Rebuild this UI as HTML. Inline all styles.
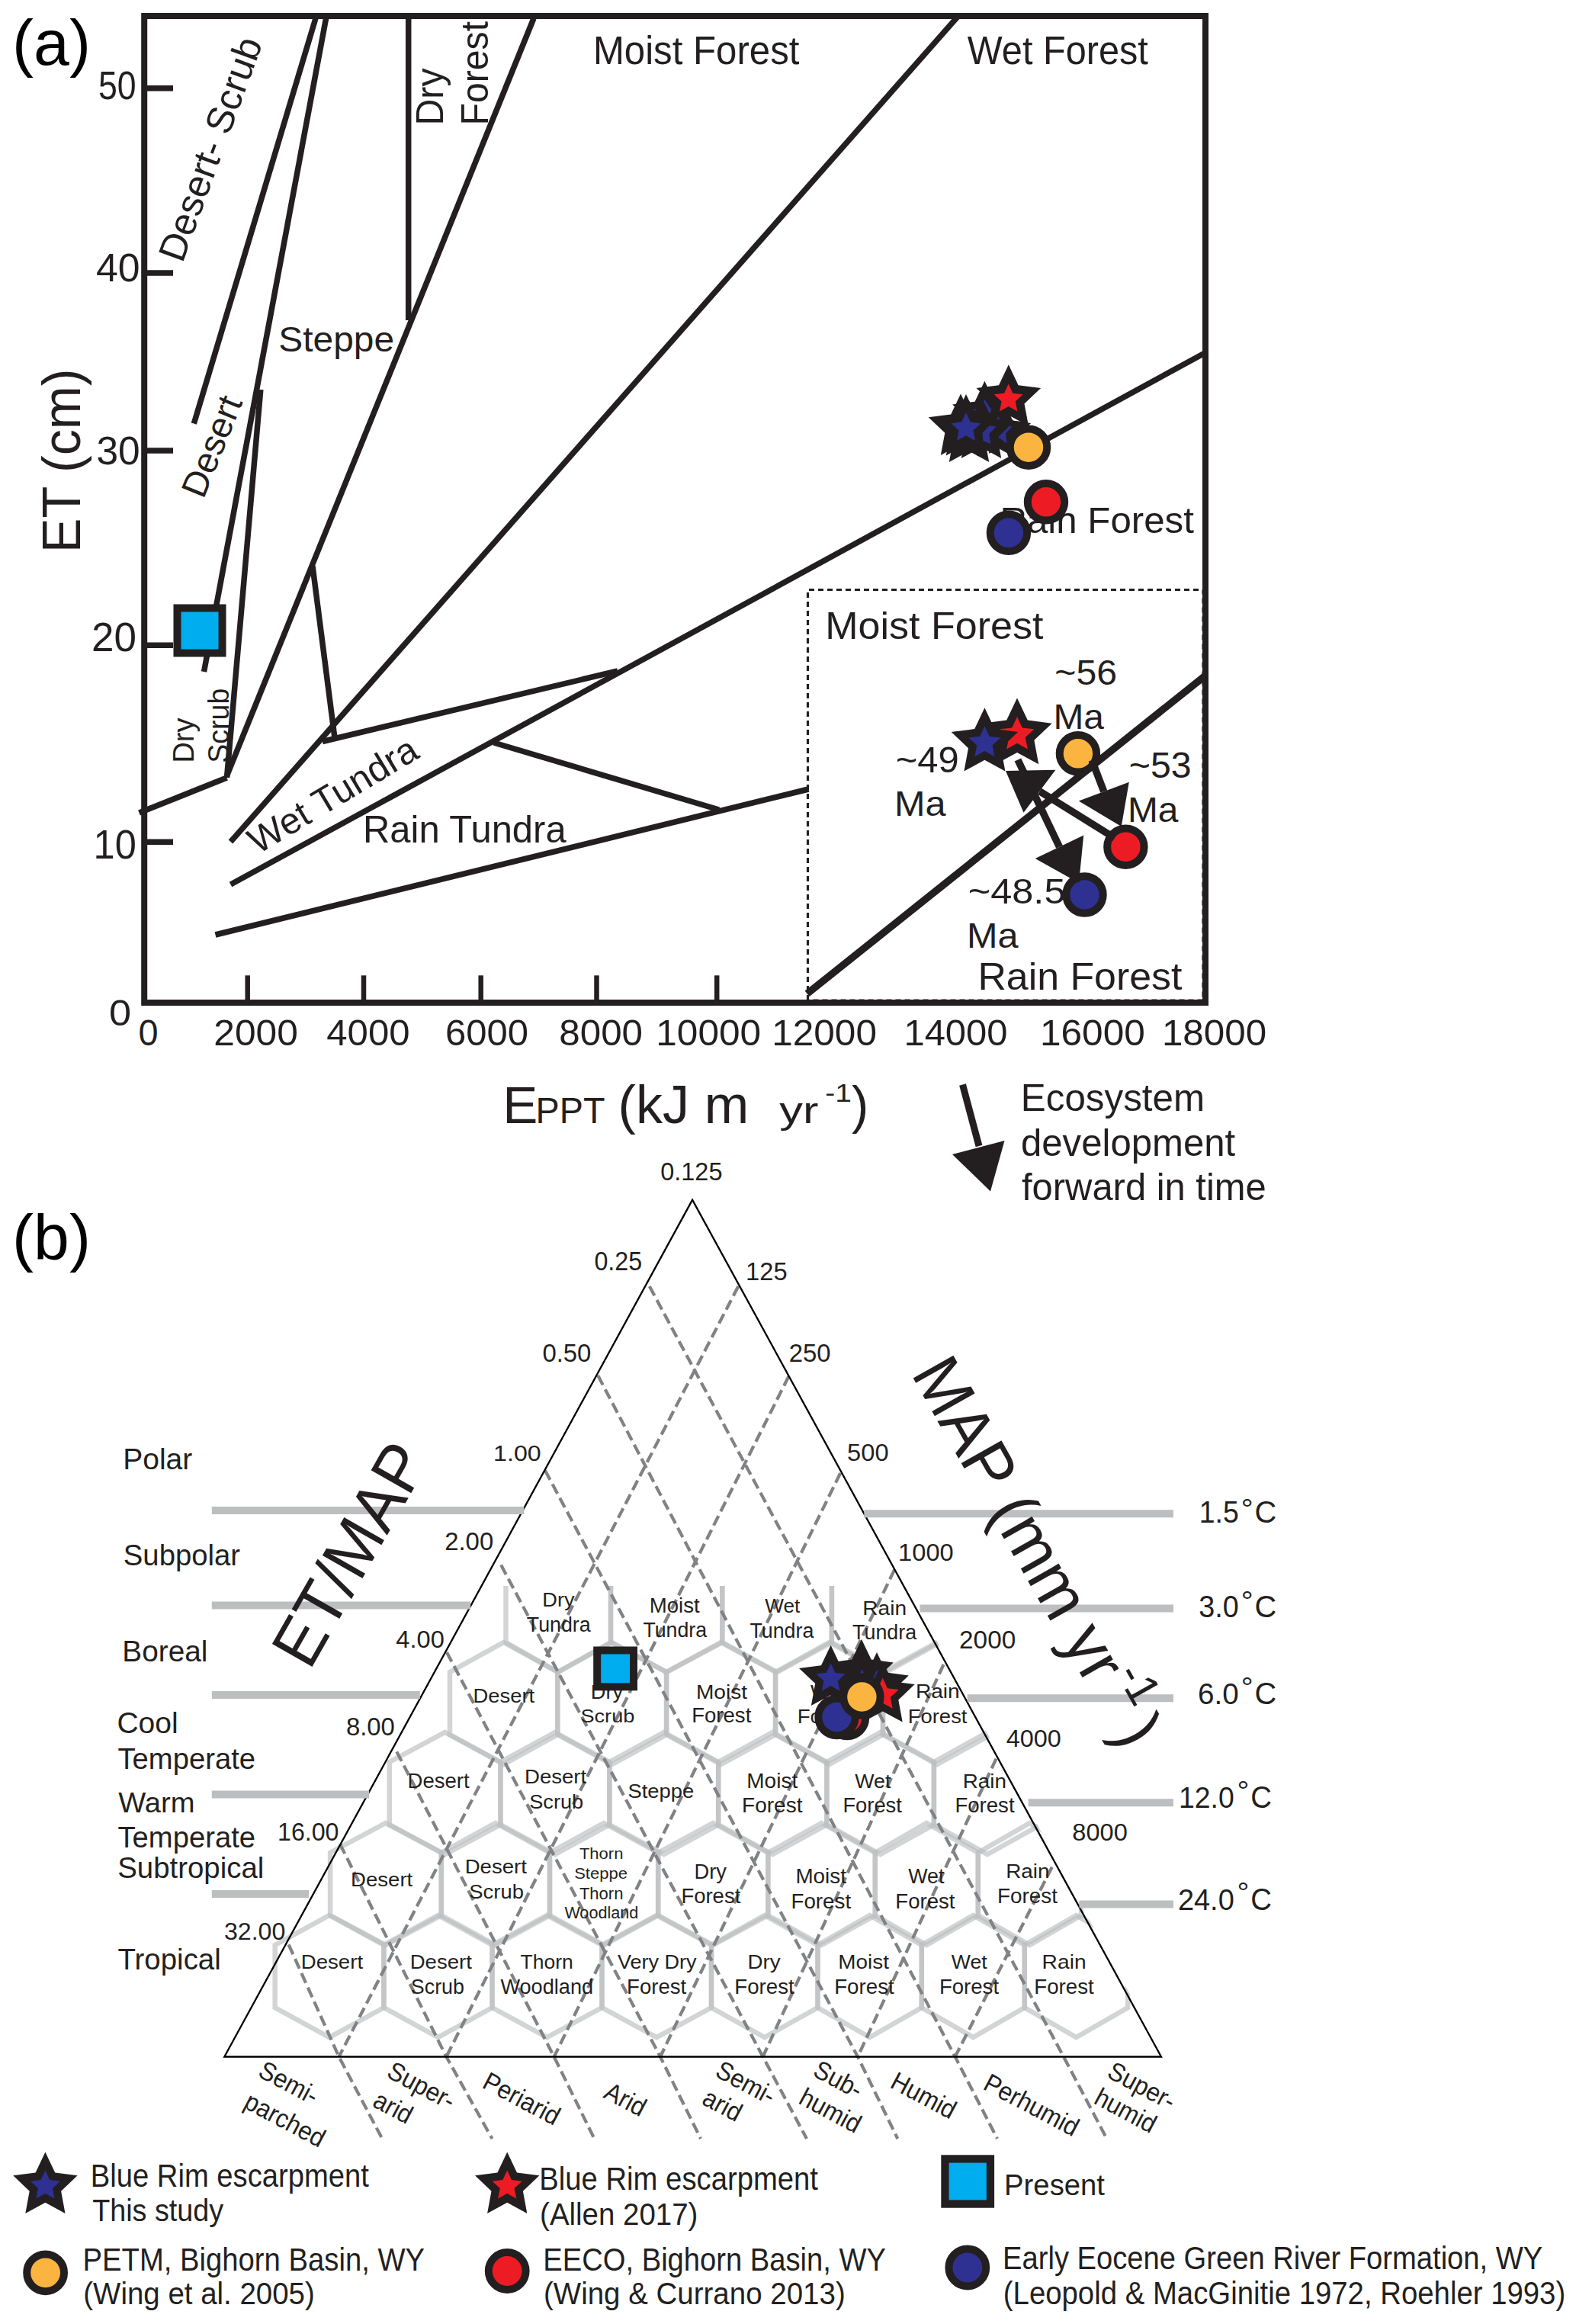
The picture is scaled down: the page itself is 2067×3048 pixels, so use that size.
<!DOCTYPE html>
<html><head><meta charset="utf-8"><title>Figure</title>
<style>
html,body{margin:0;padding:0;background:#fff;}
svg{display:block;}
text{font-family:"Liberation Sans",Arial,Helvetica,sans-serif;}
</style></head><body>
<svg xmlns="http://www.w3.org/2000/svg" width="2067" height="3048" viewBox="0 0 2067 3048">
<rect width="2067" height="3048" fill="#fff"/>
<text x="16.1" y="84.7" font-size="84.10" textLength="102.8" lengthAdjust="spacingAndGlyphs" fill="#000" >(a)</text>
<rect x="189.2" y="21" width="1391.8" height="1294" fill="none" stroke="#231f20" stroke-width="8"/>
<line x1="189.0" y1="115.7" x2="227.0" y2="115.7" stroke="#231f20" stroke-width="7.6" />
<line x1="189.0" y1="358.0" x2="227.0" y2="358.0" stroke="#231f20" stroke-width="7.6" />
<line x1="189.0" y1="591.0" x2="227.0" y2="591.0" stroke="#231f20" stroke-width="7.6" />
<line x1="189.0" y1="846.2" x2="227.0" y2="846.2" stroke="#231f20" stroke-width="7.6" />
<line x1="189.0" y1="1104.3" x2="227.0" y2="1104.3" stroke="#231f20" stroke-width="7.6" />
<text x="129.0" y="129.7" font-size="52.62" textLength="49.7" lengthAdjust="spacingAndGlyphs" fill="#231f20" >50</text>
<text x="126.0" y="369.1" font-size="52.19" textLength="57.6" lengthAdjust="spacingAndGlyphs" fill="#231f20" >40</text>
<text x="126.5" y="608.8" font-size="50.90" textLength="57.2" lengthAdjust="spacingAndGlyphs" fill="#231f20" >30</text>
<text x="119.9" y="854.2" font-size="53.91" textLength="59.0" lengthAdjust="spacingAndGlyphs" fill="#231f20" >20</text>
<text x="122.6" y="1126.0" font-size="53.91" textLength="56.2" lengthAdjust="spacingAndGlyphs" fill="#231f20" >10</text>
<text x="142.9" y="1345.0" font-size="48.75" textLength="29.1" lengthAdjust="spacingAndGlyphs" fill="#231f20" >0</text>
<line x1="324.7" y1="1279.3" x2="324.7" y2="1315.0" stroke="#231f20" stroke-width="6.5" />
<line x1="477.0" y1="1279.3" x2="477.0" y2="1315.0" stroke="#231f20" stroke-width="6.5" />
<line x1="630.7" y1="1279.3" x2="630.7" y2="1315.0" stroke="#231f20" stroke-width="6.5" />
<line x1="782.5" y1="1279.3" x2="782.5" y2="1315.0" stroke="#231f20" stroke-width="6.5" />
<line x1="940.2" y1="1279.3" x2="940.2" y2="1315.0" stroke="#231f20" stroke-width="6.5" />
<text x="181.4" y="1370.5" font-size="48.75" textLength="26.1" lengthAdjust="spacingAndGlyphs" fill="#231f20" >0</text>
<text x="280.3" y="1370.5" font-size="48.75" textLength="110.6" lengthAdjust="spacingAndGlyphs" fill="#231f20" >2000</text>
<text x="428.3" y="1370.5" font-size="48.75" textLength="109.2" lengthAdjust="spacingAndGlyphs" fill="#231f20" >4000</text>
<text x="583.9" y="1370.5" font-size="48.75" textLength="109.1" lengthAdjust="spacingAndGlyphs" fill="#231f20" >6000</text>
<text x="733.3" y="1370.5" font-size="48.75" textLength="109.7" lengthAdjust="spacingAndGlyphs" fill="#231f20" >8000</text>
<text x="860.3" y="1370.5" font-size="48.75" textLength="137.8" lengthAdjust="spacingAndGlyphs" fill="#231f20" >10000</text>
<text x="1012.2" y="1370.5" font-size="48.75" textLength="137.8" lengthAdjust="spacingAndGlyphs" fill="#231f20" >12000</text>
<text x="1185.4" y="1370.5" font-size="48.75" textLength="136.2" lengthAdjust="spacingAndGlyphs" fill="#231f20" >14000</text>
<text x="1364.0" y="1370.5" font-size="48.75" textLength="137.8" lengthAdjust="spacingAndGlyphs" fill="#231f20" >16000</text>
<text x="1523.9" y="1370.5" font-size="48.75" textLength="137.3" lengthAdjust="spacingAndGlyphs" fill="#231f20" >18000</text>
<line x1="414.0" y1="24.0" x2="254.3" y2="555.6" stroke="#231f20" stroke-width="7.5" />
<line x1="427.6" y1="24.0" x2="267.5" y2="881.0" stroke="#231f20" stroke-width="7.5" />
<line x1="535.7" y1="24.0" x2="535.7" y2="420.0" stroke="#231f20" stroke-width="7.5" />
<line x1="700.0" y1="24.0" x2="297.5" y2="1017.5" stroke="#231f20" stroke-width="7.5" />
<line x1="1255.5" y1="22.5" x2="302.5" y2="1104.0" stroke="#231f20" stroke-width="7.5" />
<line x1="410.0" y1="742.5" x2="439.0" y2="968.0" stroke="#231f20" stroke-width="7.5" />
<line x1="423.0" y1="972.5" x2="810.0" y2="880.0" stroke="#231f20" stroke-width="7.5" />
<line x1="302.5" y1="1160.0" x2="1581.0" y2="462.5" stroke="#231f20" stroke-width="7.5" />
<line x1="647.5" y1="974.0" x2="943.0" y2="1062.0" stroke="#231f20" stroke-width="7.5" />
<line x1="282.5" y1="1226.0" x2="1060.5" y2="1035.0" stroke="#231f20" stroke-width="7.5" />
<line x1="182.5" y1="1066.0" x2="297.5" y2="1020.0" stroke="#231f20" stroke-width="7.5" />
<line x1="341.8" y1="511.0" x2="297.5" y2="1020.0" stroke="#231f20" stroke-width="7.5" />
<path d="M1059.5,1312 V773.5 H1578 V1312 H1059.5" fill="none" stroke="#231f20" stroke-width="3.2" stroke-dasharray="7,5"/>
<line x1="1058.6" y1="1303.3" x2="1581.0" y2="886.0" stroke="#231f20" stroke-width="9.5" />
<text x="777.9" y="84.0" font-size="51.85" textLength="270.5" lengthAdjust="spacingAndGlyphs" fill="#231f20" >Moist Forest</text>
<text x="1268.8" y="84.0" font-size="51.85" textLength="237.1" lengthAdjust="spacingAndGlyphs" fill="#231f20" >Wet Forest</text>
<text x="365.3" y="460.5" font-size="46.88" textLength="151.8" lengthAdjust="spacingAndGlyphs" fill="#231f20" >Steppe</text>
<text x="1311.4" y="698.5" font-size="49.01" textLength="254.5" lengthAdjust="spacingAndGlyphs" fill="#231f20" >Rain Forest</text>
<text x="1082.2" y="837.5" font-size="49.72" textLength="286.2" lengthAdjust="spacingAndGlyphs" fill="#231f20" >Moist Forest</text>
<text x="476.0" y="1105.0" font-size="49.72" textLength="266.6" lengthAdjust="spacingAndGlyphs" fill="#231f20" >Rain Tundra</text>
<text x="1282.4" y="1297.5" font-size="49.72" textLength="268.0" lengthAdjust="spacingAndGlyphs" fill="#231f20" >Rain Forest</text>
<text x="1383.3" y="897.5" font-size="46.59" textLength="81.8" lengthAdjust="spacingAndGlyphs" fill="#231f20" >~56</text>
<text x="1381.5" y="956.0" font-size="45.46" textLength="66.5" lengthAdjust="spacingAndGlyphs" fill="#231f20" >Ma</text>
<text x="1174.8" y="1012.5" font-size="48.03" textLength="83.0" lengthAdjust="spacingAndGlyphs" fill="#231f20" >~49</text>
<text x="1173.0" y="1070.0" font-size="46.17" textLength="67.6" lengthAdjust="spacingAndGlyphs" fill="#231f20" >Ma</text>
<text x="1480.8" y="1020.0" font-size="47.31" textLength="81.8" lengthAdjust="spacingAndGlyphs" fill="#231f20" >~53</text>
<text x="1479.0" y="1077.5" font-size="46.17" textLength="66.5" lengthAdjust="spacingAndGlyphs" fill="#231f20" >Ma</text>
<text x="1269.7" y="1185.0" font-size="46.59" textLength="127.8" lengthAdjust="spacingAndGlyphs" fill="#231f20" >~48.5</text>
<text x="1268.0" y="1242.5" font-size="46.17" textLength="67.6" lengthAdjust="spacingAndGlyphs" fill="#231f20" >Ma</text>
<text transform="translate(275.0,195.0) rotate(-70) scale(1.0,1)" x="0" y="0" dy="0.36em" font-size="50" text-anchor="middle" fill="#231f20" >Desert- Scrub</text>
<text transform="translate(277.0,585.0) rotate(-68) scale(1.0,1)" x="0" y="0" dy="0.36em" font-size="47" text-anchor="middle" fill="#231f20" >Desert</text>
<text transform="translate(580.7,164.5) rotate(-90) scale(0.96,1)" x="0" y="0" font-size="50.3" text-anchor="start" fill="#231f20">Dry</text>
<text transform="translate(639.7,164.5) rotate(-90) scale(0.97,1)" x="0" y="0" font-size="49.7" text-anchor="start" fill="#231f20">Forest</text>
<text transform="translate(254.0,1000.6) rotate(-90) scale(0.98,1)" x="0" y="0" font-size="38.7" text-anchor="start" fill="#231f20">Dry</text>
<text transform="translate(299.7,1000.7) rotate(-90) scale(0.97,1)" x="0" y="0" font-size="38.7" text-anchor="start" fill="#231f20">Scrub</text>
<text transform="translate(436.0,1042.0) rotate(-31) scale(1.0,1)" x="0" y="0" dy="0.36em" font-size="48.5" text-anchor="middle" fill="#231f20" >Wet Tundra</text>
<text transform="translate(104.5,725.1) rotate(-90) scale(0.962,1)" x="0" y="0" font-size="71" text-anchor="start" fill="#231f20">ET (cm)</text>
<text x="659.3" y="1472.5" font-size="68.90" textLength="46.1" lengthAdjust="spacingAndGlyphs" fill="#231f20" >E</text>
<text x="702.6" y="1472.5" font-size="47.59" textLength="90.9" lengthAdjust="spacingAndGlyphs" fill="#231f20" >PPT</text>
<text x="810.6" y="1472.5" font-size="71.03" textLength="171.5" lengthAdjust="spacingAndGlyphs" fill="#231f20" >(kJ m</text>
<text x="1022.3" y="1472.5" font-size="47.59" textLength="51.1" lengthAdjust="spacingAndGlyphs" fill="#231f20" >yr</text>
<text x="1082.2" y="1445.0" font-size="32.73" textLength="34.7" lengthAdjust="spacingAndGlyphs" fill="#231f20" >-1</text>
<text x="1117.0" y="1472.5" font-size="68.97" textLength="22.2" lengthAdjust="spacingAndGlyphs" fill="#231f20" >)</text>
<line x1="1262.5" y1="1422.5" x2="1284.0" y2="1503.0" stroke="#231f20" stroke-width="9" />
<polygon points="1249,1514 1317.5,1496 1299,1562.5" fill="#231f20"/>
<text x="1338.8" y="1457.1" font-size="49.58" textLength="241.3" lengthAdjust="spacingAndGlyphs" fill="#231f20" >Ecosystem</text>
<text x="1339.0" y="1515.5" font-size="49.58" textLength="281.2" lengthAdjust="spacingAndGlyphs" fill="#231f20" >development</text>
<text x="1340.0" y="1574.3" font-size="49.86" textLength="320.8" lengthAdjust="spacingAndGlyphs" fill="#231f20" >forward in time</text>
<rect x="232.5" y="797.5" width="59" height="59" fill="#00aeef" stroke="#231f20" stroke-width="10"/>
<polygon points="1260.0,516.5 1272.8,543.4 1302.3,547.2 1280.7,567.7 1286.2,597.0 1260.0,582.8 1233.8,597.0 1239.3,567.7 1217.7,547.2 1247.2,543.4" fill="#231f20"/>
<polygon points="1267.0,517.0 1279.8,543.9 1309.3,547.7 1287.7,568.2 1293.2,597.5 1267.0,583.3 1240.8,597.5 1246.3,568.2 1224.7,547.7 1254.2,543.9" fill="#231f20"/>
<polygon points="1271.0,525.5 1283.8,552.4 1313.3,556.2 1291.7,576.7 1297.2,606.0 1271.0,591.8 1244.8,606.0 1250.3,576.7 1228.7,556.2 1258.2,552.4" fill="#231f20"/>
<polygon points="1287.0,520.5 1299.8,547.4 1329.3,551.2 1307.7,571.7 1313.2,601.0 1287.0,586.8 1260.8,601.0 1266.3,571.7 1244.7,551.2 1274.2,547.4" fill="#231f20"/>
<polygon points="1291.4,499.8 1304.2,526.7 1333.7,530.5 1312.1,551.0 1317.6,580.3 1291.4,566.1 1265.2,580.3 1270.7,551.0 1249.1,530.5 1278.6,526.7" fill="#231f20"/>
<polygon points="1305.0,526.0 1316.5,550.1 1343.0,553.6 1323.6,572.1 1328.5,598.4 1305.0,585.6 1281.5,598.4 1286.4,572.1 1267.0,553.6 1293.5,550.1" fill="#231f20"/>
<polygon points="1318.0,530.0 1328.4,551.7 1352.2,554.9 1334.8,571.5 1339.2,595.1 1318.0,583.6 1296.8,595.1 1301.2,571.5 1283.8,554.9 1307.6,551.7" fill="#231f20"/>
<polygon points="1322.8,478.3 1335.6,505.2 1365.1,509.0 1343.5,529.5 1349.0,558.8 1322.8,544.6 1296.6,558.8 1302.1,529.5 1280.5,509.0 1310.0,505.2" fill="#231f20"/>
<polygon points="1267.0,541.0 1272.8,553.5 1286.5,555.2 1276.4,564.5 1279.0,578.1 1267.0,571.3 1255.0,578.1 1257.6,564.5 1247.5,555.2 1261.2,553.5" fill="#2e3192"/>
<polygon points="1322.7,503.5 1328.3,515.7 1341.6,517.3 1331.8,526.4 1334.4,539.5 1322.7,533.0 1311.0,539.5 1313.6,526.4 1303.8,517.3 1317.1,515.7" fill="#ed1c24"/>
<polygon points="1297.7,558.2 1306.3,559.5 1297.4,568.9 1299.2,582.1 1289.5,578.3 1288.5,567.9" fill="#2e3192"/>
<polygon points="1323.8,558.7 1327.4,559.2 1319,568.4 1320.5,581.8 1309.1,573.2" fill="#2e3192"/>
<polygon points="1291.3,523.7 1300.5,537.7 1297.9,542.5 1290,526.8" fill="#2e3192"/>
<circle cx="1278.6" cy="537.4" r="1.2" fill="#2e3192"/><circle cx="1309.3" cy="548.6" r="1.5" fill="#2e3192"/>
<circle cx="1349.0" cy="586.7" r="24.2" fill="#fbb440" stroke="#231f20" stroke-width="10"/>
<circle cx="1372.0" cy="658.3" r="24.2" fill="#ed1c24" stroke="#231f20" stroke-width="10"/>
<circle cx="1322.9" cy="698.8" r="24.2" fill="#2e3192" stroke="#231f20" stroke-width="10"/>
<polygon points="1334.0,915.5 1347.8,944.5 1379.7,948.7 1356.4,970.8 1362.2,1002.3 1334.0,987.0 1305.8,1002.3 1311.6,970.8 1288.3,948.7 1320.2,944.5" fill="#231f20"/>
<polygon points="1334.0,940.0 1340.6,954.4 1356.4,956.2 1344.7,967.0 1347.8,982.5 1334.0,974.8 1320.2,982.5 1323.3,967.0 1311.6,956.2 1327.4,954.4" fill="#ed1c24"/>
<polygon points="1291.4,928.3 1304.6,956.1 1335.1,960.1 1312.8,981.3 1318.4,1011.5 1291.4,996.8 1264.4,1011.5 1270.0,981.3 1247.7,960.1 1278.2,956.1" fill="#231f20"/>
<polygon points="1291.4,952.2 1297.6,965.7 1312.4,967.5 1301.5,977.6 1304.4,992.2 1291.4,984.9 1278.4,992.2 1281.3,977.6 1270.4,967.5 1285.2,965.7" fill="#2e3192"/>
<circle cx="1413.9" cy="988.3" r="24.2" fill="#fbb440" stroke="#231f20" stroke-width="10"/>
<circle cx="1476.4" cy="1110.7" r="24.2" fill="#ed1c24" stroke="#231f20" stroke-width="10"/>
<circle cx="1422.5" cy="1173.5" r="24.2" fill="#2e3192" stroke="#231f20" stroke-width="10"/>
<line x1="1432.0" y1="997.0" x2="1447.8" y2="1038.1" stroke="#231f20" stroke-width="9.5" />
<polygon points="1470.7,1084.1 1414.8,1050.4 1480.8,1025.7" fill="#231f20"/>
<line x1="1462.0" y1="1099.0" x2="1363.5" y2="1037.8" stroke="#231f20" stroke-width="9.5" />
<polygon points="1319,1011.1 1384.4,1009.8 1342.5,1065.7" fill="#231f20"/>
<line x1="1334.9" y1="996.5" x2="1389.5" y2="1110.7" stroke="#231f20" stroke-width="9.5" />
<polygon points="1415,1158 1357.7,1125.9 1421.2,1095.5" fill="#231f20"/>
<text x="16.1" y="1651.9" font-size="83.96" textLength="102.8" lengthAdjust="spacingAndGlyphs" fill="#000" >(b)</text>
<defs><clipPath id="tri"><polygon points="0,1900 908.1,1566 1527,2697.5 1527,2702 0,2702"/></clipPath><clipPath id="row1"><rect x="0" y="2080" width="2067" height="700"/></clipPath></defs>
<g clip-path="url(#tri)" fill="none" stroke="#bcbdbf" stroke-opacity="0.66" stroke-width="6.5" stroke-linejoin="miter">
<g clip-path="url(#row1)"><polygon points="732.2,2033.0 801.0,2072.0 801.0,2154.0 732.2,2193.0 663.5,2154.0 663.5,2072.0"/><polygon points="874.1,2033.0 947.3,2072.0 947.3,2154.0 874.1,2193.0 801.0,2154.0 801.0,2072.0"/><polygon points="1019.1,2033.0 1090.9,2072.0 1090.9,2154.0 1019.1,2193.0 947.3,2154.0 947.3,2072.0"/><polygon points="1162.0,2033.0 1233.0,2072.0 1233.0,2154.0 1162.0,2193.0 1090.9,2154.0 1090.9,2072.0"/></g>
<polygon points="660.6,2154.0 731.3,2193.0 731.3,2275.0 660.6,2314.0 590.0,2275.0 590.0,2193.0"/><polygon points="802.7,2154.0 874.1,2193.0 874.1,2275.0 802.7,2314.0 731.3,2275.0 731.3,2193.0"/><polygon points="945.6,2154.0 1017.1,2193.0 1017.1,2275.0 945.6,2314.0 874.1,2275.0 874.1,2193.0"/><polygon points="1087.5,2154.0 1158.0,2193.0 1158.0,2275.0 1087.5,2314.0 1017.1,2275.0 1017.1,2193.0"/><polygon points="1229.0,2154.0 1300.0,2193.0 1300.0,2275.0 1229.0,2314.0 1158.0,2275.0 1158.0,2193.0"/>
<polygon points="583.6,2272.0 656.5,2311.0 656.5,2393.0 583.6,2432.0 510.8,2393.0 510.8,2311.0"/><polygon points="728.0,2272.0 799.4,2311.0 799.4,2393.0 728.0,2432.0 656.5,2393.0 656.5,2311.0"/><polygon points="870.8,2272.0 942.2,2311.0 942.2,2393.0 870.8,2432.0 799.4,2393.0 799.4,2311.0"/><polygon points="1013.3,2272.0 1084.4,2311.0 1084.4,2393.0 1013.3,2432.0 942.2,2393.0 942.2,2311.0"/><polygon points="1154.7,2272.0 1224.9,2311.0 1224.9,2393.0 1154.7,2432.0 1084.4,2393.0 1084.4,2311.0"/><polygon points="1295.0,2272.0 1365.0,2311.0 1365.0,2393.0 1295.0,2432.0 1224.9,2393.0 1224.9,2311.0"/>
<polygon points="505.9,2391.0 578.8,2430.0 578.8,2512.0 505.9,2551.0 433.1,2512.0 433.1,2430.0"/><polygon points="649.9,2391.0 721.0,2430.0 721.0,2512.0 649.9,2551.0 578.8,2512.0 578.8,2430.0"/><polygon points="792.1,2391.0 863.2,2430.0 863.2,2512.0 792.1,2551.0 721.0,2512.0 721.0,2430.0"/><polygon points="935.2,2391.0 1007.3,2430.0 1007.3,2512.0 935.2,2551.0 863.2,2512.0 863.2,2430.0"/><polygon points="1077.5,2391.0 1147.8,2430.0 1147.8,2512.0 1077.5,2551.0 1007.3,2512.0 1007.3,2430.0"/><polygon points="1215.3,2391.0 1282.8,2430.0 1282.8,2512.0 1215.3,2551.0 1147.8,2512.0 1147.8,2430.0"/><polygon points="1350.4,2391.0 1418.0,2430.0 1418.0,2512.0 1350.4,2551.0 1282.8,2512.0 1282.8,2430.0"/>
<polygon points="432.0,2512.0 503.4,2551.0 503.4,2633.0 432.0,2672.0 360.7,2633.0 360.7,2551.0"/><polygon points="574.5,2512.0 645.6,2551.0 645.6,2633.0 574.5,2672.0 503.4,2633.0 503.4,2551.0"/><polygon points="717.5,2512.0 789.5,2551.0 789.5,2633.0 717.5,2672.0 645.6,2633.0 645.6,2551.0"/><polygon points="861.2,2512.0 933.0,2551.0 933.0,2633.0 861.2,2672.0 789.5,2633.0 789.5,2551.0"/><polygon points="1002.8,2512.0 1072.5,2551.0 1072.5,2633.0 1002.8,2672.0 933.0,2633.0 933.0,2551.0"/><polygon points="1140.7,2512.0 1208.8,2551.0 1208.8,2633.0 1140.7,2672.0 1072.5,2633.0 1072.5,2551.0"/><polygon points="1276.3,2512.0 1343.8,2551.0 1343.8,2633.0 1276.3,2672.0 1208.8,2633.0 1208.8,2551.0"/><polygon points="1411.5,2512.0 1479.2,2551.0 1479.2,2633.0 1411.5,2672.0 1343.8,2633.0 1343.8,2551.0"/>
</g>
<polyline points="851.8,1687 1395.0,2697.5 1451.6,2805" fill="none" stroke="#808285" stroke-width="4.2" stroke-dasharray="14,6.5"/>
<polyline points="784.2,1804 1252.7,2697.5 1308.0,2805" fill="none" stroke="#808285" stroke-width="4.2" stroke-dasharray="14,6.5"/>
<polyline points="714.9,1928.5 1125.0,2697.5 1177.3,2805" fill="none" stroke="#808285" stroke-width="4.2" stroke-dasharray="14,6.5"/>
<polyline points="657.1,2052.6 1000.6,2697.5 1058.0,2805" fill="none" stroke="#808285" stroke-width="4.2" stroke-dasharray="14,6.5"/>
<polyline points="585.9,2166.9 866.0,2697.5 919.0,2805" fill="none" stroke="#808285" stroke-width="4.2" stroke-dasharray="14,6.5"/>
<polyline points="520.3,2297.4 726.7,2697.5 779.5,2805" fill="none" stroke="#808285" stroke-width="4.2" stroke-dasharray="14,6.5"/>
<polyline points="446.0,2418.6 585.4,2697.5 645.5,2805" fill="none" stroke="#808285" stroke-width="4.2" stroke-dasharray="14,6.5"/>
<polyline points="378.6,2550.4 444.5,2697.5 501.3,2805" fill="none" stroke="#808285" stroke-width="4.2" stroke-dasharray="14,6.5"/>
<line x1="968.3" y1="1687" x2="444.5" y2="2697.5" stroke="#808285" stroke-width="4.2" stroke-dasharray="14,6.5"/>
<line x1="1034.5" y1="1805" x2="585.4" y2="2697.5" stroke="#808285" stroke-width="4.2" stroke-dasharray="14,6.5"/>
<line x1="1102.2" y1="1932" x2="726.7" y2="2697.5" stroke="#808285" stroke-width="4.2" stroke-dasharray="14,6.5"/>
<line x1="1173.2" y1="2058.6" x2="866.0" y2="2697.5" stroke="#808285" stroke-width="4.2" stroke-dasharray="14,6.5"/>
<line x1="1237.6" y1="2183" x2="1000.6" y2="2697.5" stroke="#808285" stroke-width="4.2" stroke-dasharray="14,6.5"/>
<line x1="1306.5" y1="2306.6" x2="1125.0" y2="2697.5" stroke="#808285" stroke-width="4.2" stroke-dasharray="14,6.5"/>
<line x1="1379.8" y1="2448.7" x2="1252.7" y2="2697.5" stroke="#808285" stroke-width="4.2" stroke-dasharray="14,6.5"/>
<polygon points="908.1,1573.6 294.3,2697.5 1523.0,2697.5" fill="none" stroke="#000" stroke-width="2.3" stroke-linejoin="miter"/>
<line x1="277.8" y1="1981" x2="687.3" y2="1981" stroke="#bcbec0" stroke-width="10"/>
<line x1="277.8" y1="2105.5" x2="617.2" y2="2105.5" stroke="#bcbec0" stroke-width="10"/>
<line x1="277.8" y1="2223.1" x2="550.8" y2="2223.1" stroke="#bcbec0" stroke-width="10"/>
<line x1="277.8" y1="2353.6" x2="484.1" y2="2353.6" stroke="#bcbec0" stroke-width="10"/>
<line x1="277.8" y1="2483.9" x2="405.1" y2="2483.9" stroke="#bcbec0" stroke-width="10"/>
<line x1="1133.3" y1="1985.2" x2="1539" y2="1985.2" stroke="#bcbec0" stroke-width="10"/>
<line x1="1206.5" y1="2109.5" x2="1539" y2="2109.5" stroke="#bcbec0" stroke-width="10"/>
<line x1="1268.7" y1="2227.3" x2="1539" y2="2227.3" stroke="#bcbec0" stroke-width="10"/>
<line x1="1348.7" y1="2364.3" x2="1539" y2="2364.3" stroke="#bcbec0" stroke-width="10"/>
<line x1="1415.5" y1="2497.5" x2="1539" y2="2497.5" stroke="#bcbec0" stroke-width="10"/>
<text x="1572.7" y="1997.1" font-size="40.00" textLength="52.1" lengthAdjust="spacingAndGlyphs" fill="#231f20" >1.5</text>
<text x="1627.8" y="1992.3" font-size="36.40" textLength="15.9" lengthAdjust="spacingAndGlyphs" fill="#231f20" >°</text>
<text x="1645.4" y="1997.1" font-size="40.06" textLength="28.7" lengthAdjust="spacingAndGlyphs" fill="#231f20" >C</text>
<text x="1572.3" y="2121.1" font-size="40.57" textLength="52.4" lengthAdjust="spacingAndGlyphs" fill="#231f20" >3.0</text>
<text x="1627.8" y="2113.4" font-size="36.40" textLength="15.9" lengthAdjust="spacingAndGlyphs" fill="#231f20" >°</text>
<text x="1645.4" y="2121.1" font-size="41.20" textLength="28.7" lengthAdjust="spacingAndGlyphs" fill="#231f20" >C</text>
<text x="1571.1" y="2235.4" font-size="39.57" textLength="53.7" lengthAdjust="spacingAndGlyphs" fill="#231f20" >6.0</text>
<text x="1627.8" y="2225.6" font-size="36.40" textLength="15.9" lengthAdjust="spacingAndGlyphs" fill="#231f20" >°</text>
<text x="1645.4" y="2235.4" font-size="40.20" textLength="28.7" lengthAdjust="spacingAndGlyphs" fill="#231f20" >C</text>
<text x="1546.0" y="2371.3" font-size="39.28" textLength="72.8" lengthAdjust="spacingAndGlyphs" fill="#231f20" >12.0</text>
<text x="1622.5" y="2361.6" font-size="36.40" textLength="15.9" lengthAdjust="spacingAndGlyphs" fill="#231f20" >°</text>
<text x="1640.3" y="2371.3" font-size="39.92" textLength="27.7" lengthAdjust="spacingAndGlyphs" fill="#231f20" >C</text>
<text x="1544.9" y="2505.3" font-size="39.28" textLength="73.9" lengthAdjust="spacingAndGlyphs" fill="#231f20" >24.0</text>
<text x="1622.5" y="2495.1" font-size="36.40" textLength="15.9" lengthAdjust="spacingAndGlyphs" fill="#231f20" >°</text>
<text x="1640.3" y="2505.3" font-size="39.92" textLength="27.7" lengthAdjust="spacingAndGlyphs" fill="#231f20" >C</text>
<text x="161.2" y="1927.0" font-size="39.64" textLength="91.1" lengthAdjust="spacingAndGlyphs" fill="#231f20" >Polar</text>
<text x="161.8" y="2053.0" font-size="39.21" textLength="153.3" lengthAdjust="spacingAndGlyphs" fill="#231f20" >Subpolar</text>
<text x="160.3" y="2178.7" font-size="38.36" textLength="112.1" lengthAdjust="spacingAndGlyphs" fill="#231f20" >Boreal</text>
<text x="153.4" y="2273.3" font-size="38.92" textLength="80.3" lengthAdjust="spacingAndGlyphs" fill="#231f20" >Cool</text>
<text x="154.5" y="2319.9" font-size="38.36" textLength="180.6" lengthAdjust="spacingAndGlyphs" fill="#231f20" >Temperate</text>
<text x="155.2" y="2376.5" font-size="37.36" textLength="100.3" lengthAdjust="spacingAndGlyphs" fill="#231f20" >Warm</text>
<text x="154.5" y="2422.6" font-size="38.36" textLength="180.6" lengthAdjust="spacingAndGlyphs" fill="#231f20" >Temperate</text>
<text x="154.2" y="2463.2" font-size="38.36" textLength="192.2" lengthAdjust="spacingAndGlyphs" fill="#231f20" >Subtropical</text>
<text x="154.5" y="2583.1" font-size="38.50" textLength="135.3" lengthAdjust="spacingAndGlyphs" fill="#231f20" >Tropical</text>
<text x="866.2" y="1548.2" font-size="32.69" textLength="81.3" lengthAdjust="spacingAndGlyphs" fill="#231f20" >0.125</text>
<text x="779.4" y="1666.0" font-size="34.41" textLength="62.8" lengthAdjust="spacingAndGlyphs" fill="#231f20" >0.25</text>
<text x="711.4" y="1785.5" font-size="32.69" textLength="64.0" lengthAdjust="spacingAndGlyphs" fill="#231f20" >0.50</text>
<text x="647.1" y="1915.6" font-size="29.39" textLength="62.6" lengthAdjust="spacingAndGlyphs" fill="#231f20" >1.00</text>
<text x="583.2" y="2033.2" font-size="32.54" textLength="64.0" lengthAdjust="spacingAndGlyphs" fill="#231f20" >2.00</text>
<text x="519.3" y="2161.0" font-size="31.54" textLength="63.5" lengthAdjust="spacingAndGlyphs" fill="#231f20" >4.00</text>
<text x="453.9" y="2275.5" font-size="33.12" textLength="64.0" lengthAdjust="spacingAndGlyphs" fill="#231f20" >8.00</text>
<text x="364.0" y="2414.1" font-size="33.12" textLength="80.5" lengthAdjust="spacingAndGlyphs" fill="#231f20" >16.00</text>
<text x="294.0" y="2544.4" font-size="31.97" textLength="80.3" lengthAdjust="spacingAndGlyphs" fill="#231f20" >32.00</text>
<text x="978.1" y="1679.0" font-size="32.97" textLength="54.5" lengthAdjust="spacingAndGlyphs" fill="#231f20" >125</text>
<text x="1034.7" y="1785.5" font-size="32.69" textLength="54.9" lengthAdjust="spacingAndGlyphs" fill="#231f20" >250</text>
<text x="1111.1" y="1916.4" font-size="31.83" textLength="54.5" lengthAdjust="spacingAndGlyphs" fill="#231f20" >500</text>
<text x="1178.1" y="2047.0" font-size="31.54" textLength="72.6" lengthAdjust="spacingAndGlyphs" fill="#231f20" >1000</text>
<text x="1258.1" y="2162.0" font-size="33.69" textLength="74.1" lengthAdjust="spacingAndGlyphs" fill="#231f20" >2000</text>
<text x="1319.7" y="2290.8" font-size="31.97" textLength="72.1" lengthAdjust="spacingAndGlyphs" fill="#231f20" >4000</text>
<text x="1406.3" y="2414.1" font-size="31.83" textLength="72.5" lengthAdjust="spacingAndGlyphs" fill="#231f20" >8000</text>
<text transform="translate(405.9,2191.9) rotate(-60.3) scale(0.975,1)" font-size="88" fill="#231f20">ET/MAP</text>
<g transform="translate(1194.3,1801.6) rotate(60.5) scale(0.97,1)" fill="#231f20"><text font-size="88">MAP (mm yr</text><text x="490.2" y="-40.3" font-size="60">-1</text><text x="557.7" y="0" font-size="88">)</text></g>
<text x="711.3" y="2107.0" font-size="25.00" textLength="42.3" lengthAdjust="spacingAndGlyphs" fill="#231f20" >Dry</text>
<text x="690.8" y="2139.7" font-size="27.56" textLength="83.9" lengthAdjust="spacingAndGlyphs" fill="#231f20" >Tundra</text>
<text x="851.7" y="2115.0" font-size="27.56" textLength="66.0" lengthAdjust="spacingAndGlyphs" fill="#231f20" >Moist</text>
<text x="843.4" y="2147.2" font-size="27.84" textLength="83.7" lengthAdjust="spacingAndGlyphs" fill="#231f20" >Tundra</text>
<text x="1003.3" y="2114.5" font-size="25.86" textLength="46.0" lengthAdjust="spacingAndGlyphs" fill="#231f20" >Wet</text>
<text x="983.4" y="2147.7" font-size="27.70" textLength="83.9" lengthAdjust="spacingAndGlyphs" fill="#231f20" >Tundra</text>
<text x="1131.3" y="2118.0" font-size="26.00" textLength="57.8" lengthAdjust="spacingAndGlyphs" fill="#231f20" >Rain</text>
<text x="1118.1" y="2150.0" font-size="27.70" textLength="84.0" lengthAdjust="spacingAndGlyphs" fill="#231f20" >Tundra</text>
<text x="620.5" y="2232.6" font-size="26.57" textLength="80.7" lengthAdjust="spacingAndGlyphs" fill="#231f20" >Desert</text>
<text x="774.8" y="2227.6" font-size="26.00" textLength="42.3" lengthAdjust="spacingAndGlyphs" fill="#231f20" >Dry</text>
<text x="761.4" y="2259.1" font-size="24.58" textLength="71.0" lengthAdjust="spacingAndGlyphs" fill="#231f20" >Scrub</text>
<text x="912.9" y="2227.6" font-size="26.00" textLength="67.1" lengthAdjust="spacingAndGlyphs" fill="#231f20" >Moist</text>
<text x="907.2" y="2259.1" font-size="26.85" textLength="78.1" lengthAdjust="spacingAndGlyphs" fill="#231f20" >Forest</text>
<text x="1062.9" y="2227.6" font-size="26.00" textLength="47.3" lengthAdjust="spacingAndGlyphs" fill="#231f20" >Wet</text>
<text x="1045.7" y="2259.6" font-size="26.00" textLength="78.5" lengthAdjust="spacingAndGlyphs" fill="#231f20" >Forest</text>
<text x="1200.9" y="2227.2" font-size="25.43" textLength="57.9" lengthAdjust="spacingAndGlyphs" fill="#231f20" >Rain</text>
<text x="1190.7" y="2259.6" font-size="26.00" textLength="77.8" lengthAdjust="spacingAndGlyphs" fill="#231f20" >Forest</text>
<text x="534.5" y="2345.0" font-size="26.99" textLength="81.2" lengthAdjust="spacingAndGlyphs" fill="#231f20" >Desert</text>
<text x="688.0" y="2338.8" font-size="25.29" textLength="81.2" lengthAdjust="spacingAndGlyphs" fill="#231f20" >Desert</text>
<text x="694.2" y="2371.8" font-size="25.29" textLength="71.0" lengthAdjust="spacingAndGlyphs" fill="#231f20" >Scrub</text>
<text x="823.5" y="2357.6" font-size="25.86" textLength="86.8" lengthAdjust="spacingAndGlyphs" fill="#231f20" >Steppe</text>
<text x="979.3" y="2344.5" font-size="26.71" textLength="66.9" lengthAdjust="spacingAndGlyphs" fill="#231f20" >Moist</text>
<text x="973.1" y="2377.1" font-size="26.85" textLength="79.4" lengthAdjust="spacingAndGlyphs" fill="#231f20" >Forest</text>
<text x="1121.3" y="2344.5" font-size="25.29" textLength="47.2" lengthAdjust="spacingAndGlyphs" fill="#231f20" >Wet</text>
<text x="1105.4" y="2377.1" font-size="26.85" textLength="77.5" lengthAdjust="spacingAndGlyphs" fill="#231f20" >Forest</text>
<text x="1262.7" y="2344.5" font-size="25.29" textLength="57.3" lengthAdjust="spacingAndGlyphs" fill="#231f20" >Rain</text>
<text x="1252.4" y="2377.1" font-size="26.85" textLength="78.2" lengthAdjust="spacingAndGlyphs" fill="#231f20" >Forest</text>
<text x="460.0" y="2474.1" font-size="26.28" textLength="81.3" lengthAdjust="spacingAndGlyphs" fill="#231f20" >Desert</text>
<text x="609.7" y="2457.3" font-size="25.86" textLength="81.3" lengthAdjust="spacingAndGlyphs" fill="#231f20" >Desert</text>
<text x="615.3" y="2489.5" font-size="26.28" textLength="71.6" lengthAdjust="spacingAndGlyphs" fill="#231f20" >Scrub</text>
<text x="759.9" y="2438.4" font-size="20.88" textLength="57.5" lengthAdjust="spacingAndGlyphs" fill="#231f20" >Thorn</text>
<text x="753.2" y="2464.1" font-size="19.46" textLength="69.8" lengthAdjust="spacingAndGlyphs" fill="#231f20" >Steppe</text>
<text x="759.9" y="2490.5" font-size="21.88" textLength="57.5" lengthAdjust="spacingAndGlyphs" fill="#231f20" >Thorn</text>
<text x="740.4" y="2516.2" font-size="21.88" textLength="96.8" lengthAdjust="spacingAndGlyphs" fill="#231f20" >Woodland</text>
<text x="910.5" y="2463.8" font-size="27.70" textLength="42.4" lengthAdjust="spacingAndGlyphs" fill="#231f20" >Dry</text>
<text x="893.4" y="2495.7" font-size="28.27" textLength="77.9" lengthAdjust="spacingAndGlyphs" fill="#231f20" >Forest</text>
<text x="1043.4" y="2470.0" font-size="26.85" textLength="66.5" lengthAdjust="spacingAndGlyphs" fill="#231f20" >Moist</text>
<text x="1037.5" y="2502.5" font-size="26.71" textLength="78.6" lengthAdjust="spacingAndGlyphs" fill="#231f20" >Forest</text>
<text x="1191.2" y="2470.0" font-size="26.85" textLength="47.2" lengthAdjust="spacingAndGlyphs" fill="#231f20" >Wet</text>
<text x="1174.3" y="2502.5" font-size="26.71" textLength="78.2" lengthAdjust="spacingAndGlyphs" fill="#231f20" >Forest</text>
<text x="1319.2" y="2463.1" font-size="25.71" textLength="57.3" lengthAdjust="spacingAndGlyphs" fill="#231f20" >Rain</text>
<text x="1307.9" y="2495.7" font-size="26.85" textLength="79.0" lengthAdjust="spacingAndGlyphs" fill="#231f20" >Forest</text>
<text x="394.8" y="2582.1" font-size="25.71" textLength="81.3" lengthAdjust="spacingAndGlyphs" fill="#231f20" >Desert</text>
<text x="537.7" y="2582.1" font-size="25.71" textLength="81.3" lengthAdjust="spacingAndGlyphs" fill="#231f20" >Desert</text>
<text x="538.8" y="2614.7" font-size="27.28" textLength="70.2" lengthAdjust="spacingAndGlyphs" fill="#231f20" >Scrub</text>
<text x="682.6" y="2582.1" font-size="25.71" textLength="69.2" lengthAdjust="spacingAndGlyphs" fill="#231f20" >Thorn</text>
<text x="656.4" y="2614.7" font-size="27.28" textLength="121.7" lengthAdjust="spacingAndGlyphs" fill="#231f20" >Woodland</text>
<text x="809.9" y="2582.1" font-size="25.71" textLength="103.7" lengthAdjust="spacingAndGlyphs" fill="#231f20" >Very Dry</text>
<text x="822.1" y="2614.7" font-size="27.28" textLength="78.2" lengthAdjust="spacingAndGlyphs" fill="#231f20" >Forest</text>
<text x="980.4" y="2582.1" font-size="25.71" textLength="43.2" lengthAdjust="spacingAndGlyphs" fill="#231f20" >Dry</text>
<text x="963.3" y="2614.7" font-size="27.28" textLength="78.5" lengthAdjust="spacingAndGlyphs" fill="#231f20" >Forest</text>
<text x="1099.3" y="2582.1" font-size="25.71" textLength="66.6" lengthAdjust="spacingAndGlyphs" fill="#231f20" >Moist</text>
<text x="1094.2" y="2614.7" font-size="27.28" textLength="78.5" lengthAdjust="spacingAndGlyphs" fill="#231f20" >Forest</text>
<text x="1247.8" y="2582.1" font-size="25.71" textLength="46.9" lengthAdjust="spacingAndGlyphs" fill="#231f20" >Wet</text>
<text x="1231.9" y="2614.7" font-size="27.28" textLength="78.2" lengthAdjust="spacingAndGlyphs" fill="#231f20" >Forest</text>
<text x="1366.6" y="2582.1" font-size="25.71" textLength="58.0" lengthAdjust="spacingAndGlyphs" fill="#231f20" >Rain</text>
<text x="1356.3" y="2614.7" font-size="27.28" textLength="78.5" lengthAdjust="spacingAndGlyphs" fill="#231f20" >Forest</text>
<text transform="translate(379.0,2731.0) rotate(28) scale(0.93,1)" x="0" y="0" dy="0.36em" font-size="34" text-anchor="middle" fill="#231f20" >Semi-</text>
<text transform="translate(374.2,2779.5) rotate(28) scale(0.93,1)" x="0" y="0" dy="0.36em" font-size="34" text-anchor="middle" fill="#231f20" >parched</text>
<text transform="translate(553.2,2734.7) rotate(28) scale(0.93,1)" x="0" y="0" dy="0.36em" font-size="34" text-anchor="middle" fill="#231f20" >Super-</text>
<text transform="translate(516.1,2763.3) rotate(28) scale(0.93,1)" x="0" y="0" dy="0.36em" font-size="34" text-anchor="middle" fill="#231f20" >arid</text>
<text transform="translate(684.5,2751.9) rotate(28) scale(0.93,1)" x="0" y="0" dy="0.36em" font-size="34" text-anchor="middle" fill="#231f20" >Periarid</text>
<text transform="translate(820.6,2752.8) rotate(28) scale(0.93,1)" x="0" y="0" dy="0.36em" font-size="34" text-anchor="middle" fill="#231f20" >Arid</text>
<text transform="translate(978.4,2730.9) rotate(28) scale(0.93,1)" x="0" y="0" dy="0.36em" font-size="34" text-anchor="middle" fill="#231f20" >Semi-</text>
<text transform="translate(948.0,2760.2) rotate(28) scale(0.93,1)" x="0" y="0" dy="0.36em" font-size="34" text-anchor="middle" fill="#231f20" >arid</text>
<text transform="translate(1099.8,2726.7) rotate(28) scale(0.93,1)" x="0" y="0" dy="0.36em" font-size="34" text-anchor="middle" fill="#231f20" >Sub-</text>
<text transform="translate(1089.4,2767.5) rotate(28) scale(0.93,1)" x="0" y="0" dy="0.36em" font-size="34" text-anchor="middle" fill="#231f20" >humid</text>
<text transform="translate(1211.8,2747.7) rotate(28) scale(0.93,1)" x="0" y="0" dy="0.36em" font-size="34" text-anchor="middle" fill="#231f20" >Humid</text>
<text transform="translate(1353.2,2760.2) rotate(28) scale(0.93,1)" x="0" y="0" dy="0.36em" font-size="34" text-anchor="middle" fill="#231f20" >Perhumid</text>
<text transform="translate(1497.9,2735.0) rotate(28) scale(0.93,1)" x="0" y="0" dy="0.36em" font-size="34" text-anchor="middle" fill="#231f20" >Super-</text>
<text transform="translate(1476.8,2767.5) rotate(28) scale(0.93,1)" x="0" y="0" dy="0.36em" font-size="34" text-anchor="middle" fill="#231f20" >humid</text>
<rect x="783.2" y="2164.5" width="47.8" height="47.8" fill="#00aeef" stroke="#231f20" stroke-width="10"/>
<polygon points="1130.0,2150.0 1142.7,2176.6 1171.8,2180.4 1150.5,2200.7 1155.9,2229.6 1130.0,2215.6 1104.1,2229.6 1109.5,2200.7 1088.2,2180.4 1117.3,2176.6" fill="#231f20"/>
<polygon points="1130.0,2173.3 1135.8,2186.0 1149.7,2187.6 1139.4,2197.1 1142.2,2210.7 1130.0,2203.9 1117.8,2210.7 1120.6,2197.1 1110.3,2187.6 1124.2,2186.0" fill="#2e3192"/>
<polygon points="1130.6,2166.0 1143.3,2192.6 1172.4,2196.4 1151.1,2216.7 1156.5,2245.6 1130.6,2231.6 1104.7,2245.6 1110.1,2216.7 1088.8,2196.4 1117.9,2192.6" fill="#231f20"/>
<polygon points="1130.6,2189.3 1136.4,2202.0 1150.3,2203.6 1140.0,2213.1 1142.8,2226.7 1130.6,2219.9 1118.4,2226.7 1121.2,2213.1 1110.9,2203.6 1124.8,2202.0" fill="#2e3192"/>
<polygon points="1150.0,2167.0 1162.7,2193.6 1191.8,2197.4 1170.5,2217.7 1175.9,2246.6 1150.0,2232.6 1124.1,2246.6 1129.5,2217.7 1108.2,2197.4 1137.3,2193.6" fill="#231f20"/>
<polygon points="1150.0,2190.3 1155.8,2203.0 1169.7,2204.6 1159.4,2214.1 1162.2,2227.7 1150.0,2220.9 1137.8,2227.7 1140.6,2214.1 1130.3,2204.6 1144.2,2203.0" fill="#2e3192"/>
<polygon points="1157.7,2178.6 1170.4,2205.3 1199.7,2209.1 1178.3,2229.5 1183.7,2258.6 1157.7,2244.5 1131.7,2258.6 1137.1,2229.5 1115.7,2209.1 1145.0,2205.3" fill="#231f20"/>
<polygon points="1157.7,2200.7 1163.9,2214.2 1178.7,2216.0 1167.8,2226.1 1170.7,2240.7 1157.7,2233.4 1144.7,2240.7 1147.6,2226.1 1136.7,2216.0 1151.5,2214.2" fill="#ed1c24"/>
<polygon points="1089.6,2157.8 1102.2,2184.2 1131.2,2188.0 1110.0,2208.1 1115.3,2236.9 1089.6,2222.9 1063.9,2236.9 1069.2,2208.1 1048.0,2188.0 1077.0,2184.2" fill="#231f20"/>
<polygon points="1089.6,2181.4 1095.3,2193.7 1108.7,2195.3 1098.8,2204.5 1101.4,2217.8 1089.6,2211.1 1077.8,2217.8 1080.4,2204.5 1070.5,2195.3 1083.9,2193.7" fill="#2e3192"/>
<circle cx="1111.0" cy="2253.0" r="24.2" fill="#ed1c24" stroke="#231f20" stroke-width="10"/>
<circle cx="1097.5" cy="2252.0" r="24.2" fill="#2e3192" stroke="#231f20" stroke-width="10"/>
<circle cx="1130.4" cy="2225.5" r="24.2" fill="#fbb440" stroke="#231f20" stroke-width="10"/>
<polygon points="59.4,2822.6 72.2,2849.4 101.6,2853.3 80.1,2873.7 85.5,2902.9 59.4,2888.8 33.3,2902.9 38.7,2873.7 17.2,2853.3 46.6,2849.4" fill="#231f20"/>
<polygon points="59.4,2846.5 65.2,2859.0 78.9,2860.7 68.8,2870.0 71.5,2883.6 59.4,2876.8 47.3,2883.6 50.0,2870.0 39.9,2860.7 53.6,2859.0" fill="#2e3192"/>
<text x="118.8" y="2868.0" font-size="42.05" textLength="365.1" lengthAdjust="spacingAndGlyphs" fill="#231f20" >Blue Rim escarpment</text>
<text x="121.2" y="2913.0" font-size="41.20" textLength="171.9" lengthAdjust="spacingAndGlyphs" fill="#231f20" >This study</text>
<circle cx="59.6" cy="2980.8" r="24.4" fill="#fbb440" stroke="#231f20" stroke-width="10"/>
<text x="108.5" y="2978.0" font-size="42.62" textLength="448.6" lengthAdjust="spacingAndGlyphs" fill="#231f20" >PETM, Bighorn Basin, WY</text>
<text x="109.3" y="3022.0" font-size="41.20" textLength="303.5" lengthAdjust="spacingAndGlyphs" fill="#231f20" >(Wing et al. 2005)</text>
<polygon points="665.2,2822.6 678.0,2849.4 707.4,2853.3 685.9,2873.7 691.3,2902.9 665.2,2888.8 639.1,2902.9 644.5,2873.7 623.0,2853.3 652.4,2849.4" fill="#231f20"/>
<polygon points="665.2,2846.5 671.0,2859.0 684.7,2860.7 674.6,2870.0 677.3,2883.6 665.2,2876.8 653.1,2883.6 655.8,2870.0 645.7,2860.7 659.4,2859.0" fill="#ed1c24"/>
<text x="707.3" y="2872.0" font-size="42.62" textLength="365.7" lengthAdjust="spacingAndGlyphs" fill="#231f20" >Blue Rim escarpment</text>
<text x="708.1" y="2918.0" font-size="41.20" textLength="207.3" lengthAdjust="spacingAndGlyphs" fill="#231f20" >(Allen 2017)</text>
<circle cx="665.2" cy="2978.5" r="24.4" fill="#ed1c24" stroke="#231f20" stroke-width="10"/>
<text x="712.3" y="2978.0" font-size="42.62" textLength="449.7" lengthAdjust="spacingAndGlyphs" fill="#231f20" >EECO, Bighorn Basin, WY</text>
<text x="713.0" y="3022.0" font-size="41.20" textLength="395.7" lengthAdjust="spacingAndGlyphs" fill="#231f20" >(Wing &amp; Currano 2013)</text>
<rect x="1239.45" y="2831.45" width="59.5" height="59.1" fill="#00aeef" stroke="#231f20" stroke-width="10.3"/>
<text x="1317.1" y="2879.0" font-size="38.92" textLength="131.9" lengthAdjust="spacingAndGlyphs" fill="#231f20" >Present</text>
<circle cx="1268.8" cy="2974.0" r="24.4" fill="#2e3192" stroke="#231f20" stroke-width="10"/>
<text x="1315.1" y="2976.0" font-size="42.62" textLength="708.1" lengthAdjust="spacingAndGlyphs" fill="#231f20" >Early Eocene Green River Formation, WY</text>
<text x="1315.8" y="3022.0" font-size="42.62" textLength="737.4" lengthAdjust="spacingAndGlyphs" fill="#231f20" >(Leopold &amp; MacGinitie 1972, Roehler 1993)</text>
</svg>
</body></html>
